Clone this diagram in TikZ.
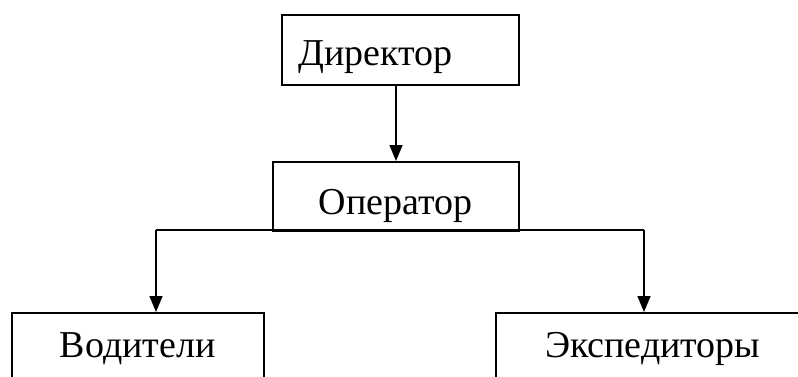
\documentclass[tikz,border=0pt]{standalone}
\usepackage{fontspec}
\setmainfont{Liberation Serif}
\usetikzlibrary{arrows.meta}
\tikzset{
  box/.style={draw, line width=1.5pt, inner xsep=0pt, inner ysep=0pt, anchor=north west,
              font=\fontsize{38}{40}\selectfont},
  arr/.style={draw, line width=1.5pt, -{Triangle[length=16pt,width=13pt]}},
  conn/.style={draw, line width=1.5pt}
}
\begin{document}
\begin{tikzpicture}[x=1pt,y=-1pt]
\useasboundingbox (0,0) rectangle (798,376);
\clip (0,0) rectangle (798,376);
\fill[white] (0,0) rectangle (798,376);
\node[box, text width=237pt, align=left,
      text height=51pt, text depth=19pt] (dir) at (281,14) {\hspace*{17pt}Директор};
\node[box, minimum width=246pt, align=center,
      text height=53pt, text depth=16pt] (op) at (272,161) {Оператор};
\node[box, minimum width=252pt, align=center,
      text height=45pt, text depth=40pt] (vod) at (11,312) {Водители};
\node[box, minimum width=314pt, align=center,
      text height=45pt, text depth=40pt] (exp) at (495,312) {Экспедиторы};
\coordinate (bl) at (156,230);
\coordinate (br) at (644,230);
\draw[arr] (dir.south -| 396,0) -- (op.north -| 396,0);
\draw[conn] (bl) -- (br);
\draw[arr] (bl) -- (bl |- vod.north);
\draw[arr] (br) -- (br |- exp.north);
\end{tikzpicture}
\end{document}
